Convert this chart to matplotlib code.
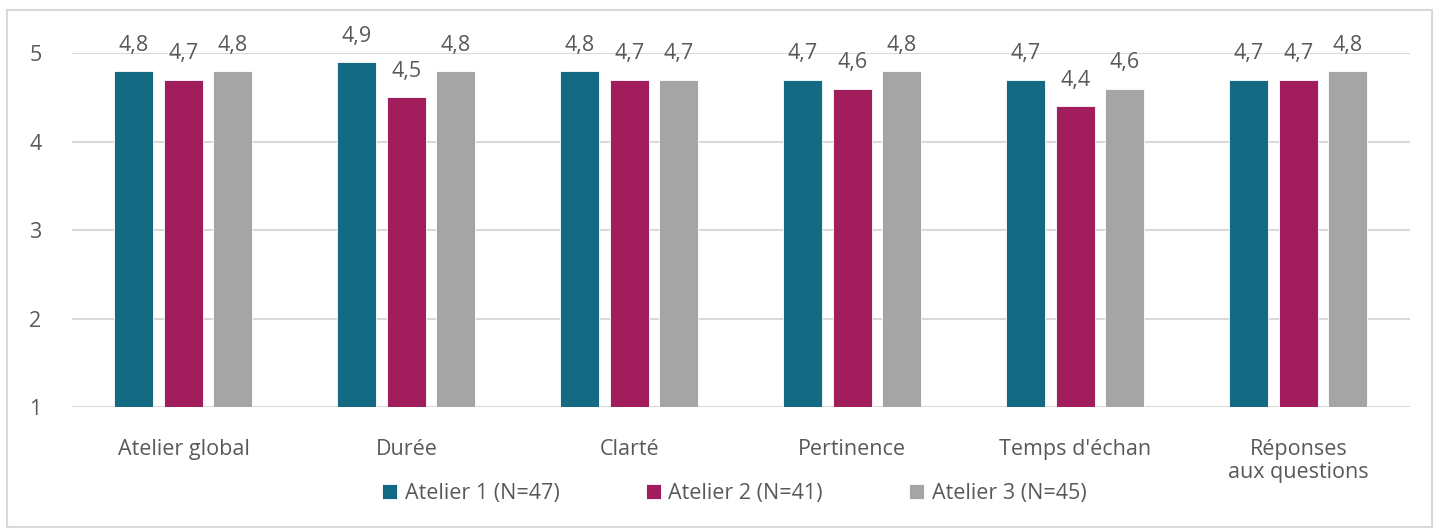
import matplotlib.pyplot as plt
import matplotlib.patches as mpatches
import numpy as np

categories = ["Atelier global", "Durée", "Clarté", "Pertinence", "Temps d'échan", "Réponses\naux questions"]
series_names = ["Atelier 1 (N=47)", "Atelier 2 (N=41)", "Atelier 3 (N=45)"]
atelier1 = [4.8, 4.9, 4.8, 4.7, 4.7, 4.7]
atelier2 = [4.7, 4.5, 4.7, 4.6, 4.4, 4.7]
atelier3 = [4.8, 4.8, 4.7, 4.8, 4.6, 4.8]
colors = ["#136a82", "#a11d5c", "#a5a5a5"]

plt.rcParams['font.family'] = ['Open Sans', 'DejaVu Sans']
txt = "#595959"
fs = 15.5

fig = plt.figure(figsize=(14.4, 5.29), dpi=100)
ax = fig.add_axes([0.05, 0.2306, 0.929, 0.669])

# chart frame
fig.patches.append(mpatches.Rectangle((7 / 1440, 1 - 527 / 529), 1425 / 1440, 517 / 529,
                                      transform=fig.transFigure, fill=False,
                                      edgecolor="#d9d9d9", linewidth=1.5))

x = np.arange(len(categories))
width = 0.175
step = 0.222
base = 1
for i, (vals, name) in enumerate(zip([atelier1, atelier2, atelier3], series_names)):
    heights = [v - base for v in vals]
    bars = ax.bar(x + (i - 1) * step, heights, width, bottom=base, color=colors[i],
                  edgecolor="white", linewidth=0.6, label=name, zorder=3)
    for b, v in zip(bars, vals):
        ax.annotate(f"{v:.1f}".replace(".", ","), (b.get_x() + b.get_width() / 2, v),
                    xytext=(0, 11), textcoords="offset points", ha="center", va="bottom",
                    fontsize=fs, color=txt)

ax.set_xlim(-0.5, len(categories) - 0.5)
ax.set_ylim(1, 5)
ax.set_yticks([1, 2, 3, 4, 5])
ax.yaxis.grid(True, color="#d9d9d9", linewidth=1.5, zorder=0)
ax.set_axisbelow(True)
for s in ax.spines.values():
    s.set_visible(False)
ax.tick_params(axis="both", length=0, labelsize=fs, colors=txt)
ax.tick_params(axis="y", pad=22)
ax.tick_params(axis="x", pad=23)
ax.set_xticks(x)
ax.set_xticklabels(categories, linespacing=1.15)

ax.legend(loc="center", bbox_to_anchor=(0.495, -0.245), ncol=3, frameon=False,
          fontsize=fs, labelcolor=txt, handlelength=0.7, handleheight=0.7,
          handletextpad=0.35, columnspacing=4.0)

fig.savefig("out.png", dpi=100)
